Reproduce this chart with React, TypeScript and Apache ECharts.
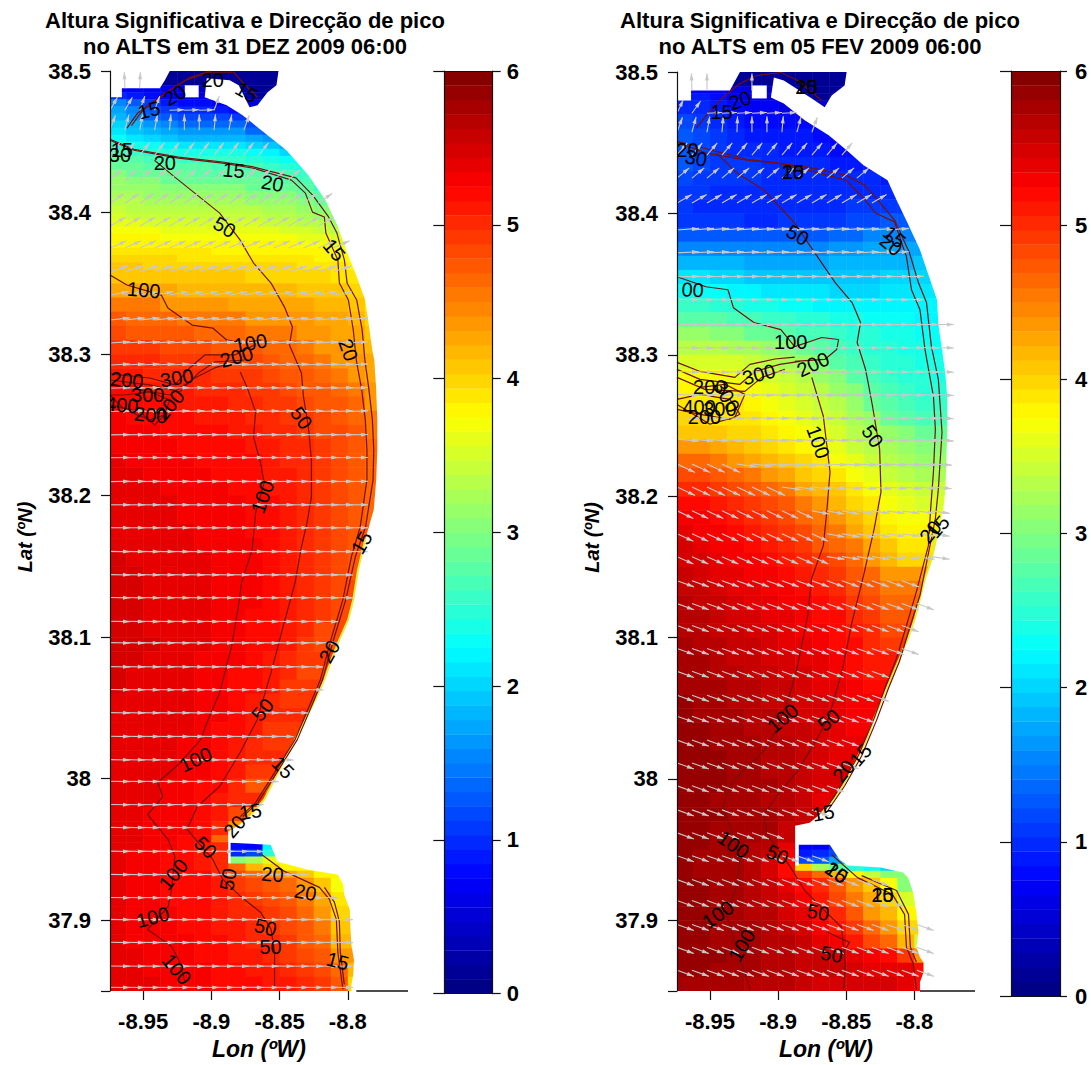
import React, { useEffect, useRef } from "react";
import * as echarts from "echarts";

const FONT = "Liberation Sans";
const titleA = "Altura Significativa e Direcção de pico\nno ALTS em 31 DEZ 2009 06:00";
const titleB = "Altura Significativa e Direcção de pico\nno ALTS em 05 FEV 2009 06:00";
const lonTicks = [-8.95, -8.9, -8.85, -8.8];
const latLabels = [37.9, 38, 38.1, 38.2, 38.3, 38.4, 38.5];
const latTicks = [37.85, 37.9, 38, 38.1, 38.2, 38.3, 38.4, 38.5];

const lonStart = -8.975;
const lonStep = 0.0125;

// Hs x 10, by latitude row (north to south), west to east in lonStep columns
const hsLatsA = [38.5, 38.49, 38.485, 38.48, 38.475, 38.47, 38.465, 38.46, 38.455, 38.45, 38.445, 38.44, 38.435, 38.43, 38.425, 38.42, 38.415, 38.41, 38.405, 38.4, 38.395, 38.39, 38.385, 38.38, 38.375, 38.37, 38.365, 38.36, 38.35, 38.34, 38.33, 38.32, 38.31, 38.3, 38.29, 38.28, 38.27, 38.26, 38.25, 38.24, 38.23, 38.22, 38.21, 38.2, 38.19, 38.18, 38.17, 38.16, 38.15, 38.14, 38.13, 38.12, 38.11, 38.1, 38.09, 38.08, 38.07, 38.06, 38.05, 38.04, 38.03, 38.02, 38.01, 38, 37.99, 37.98, 37.97, 37.96, 37.955, 37.95, 37.945, 37.94, 37.935, 37.93, 37.92, 37.91, 37.9, 37.89, 37.88, 37.87, 37.86];
const hsRowsA = [
[1,1,1,1,1,1,1,1,1,1],[7,7,7,6,5,4,3,2,1,1],[10,9,8,7,6,6,5,4,2,1],[15,13,11,9,8,8,7,6,5,3],[17,15,13,11,10,10,9,8,6,4],[18,16,14,13,12,12,12,11,9,7],[20,18,16,15,14,14,14,14,12,10,8],[21,19,18,17,16,16,16,16,14,13,10],[23,21,20,19,18,18,18,18,17,16,14,11],[25,24,23,22,21,21,21,21,20,19,17,14],[27,26,25,25,24,24,24,24,23,22,20,17,13],[29,28,27,27,26,26,26,26,25,24,23,21,16],[29,29,28,28,28,28,27,27,27,26,25,24,20],[30,29,29,29,29,28,28,28,28,27,27,26,23,18],[31,30,30,29,29,29,29,29,29,28,28,27,25,21],[31,31,31,30,30,30,30,30,29,29,29,28,26,23],[32,32,31,31,31,31,31,31,30,30,30,29,28,25],[33,33,32,32,32,32,32,32,31,31,31,30,29,27],[34,33,33,33,33,33,33,33,33,32,32,31,30,28,25],[35,34,34,34,34,34,34,34,34,33,33,32,31,30,27],[36,36,35,35,35,35,35,35,35,34,34,33,33,31,29],[37,37,37,36,36,36,36,36,36,36,35,35,34,33,31],[38,38,38,37,37,37,37,37,37,37,37,36,36,35,33],[38,38,38,38,38,38,38,38,38,38,38,37,37,36,35],[39,39,39,39,39,39,38,38,38,38,38,38,38,37,36],[40,40,40,40,39,39,39,39,39,39,39,39,38,38,37],[41,41,40,40,40,40,40,40,40,40,40,39,39,39,38],[41,41,41,41,41,41,41,41,40,40,40,40,40,39,39],
[43,43,43,43,42,42,42,42,42,42,42,41,41,41,40,38],[45,45,45,44,44,44,44,43,43,43,43,43,42,42,41,39],[47,46,46,46,45,45,45,45,44,44,44,44,43,43,42,40],[48,47,47,47,47,46,46,46,45,45,45,44,44,43,43,41],[49,49,49,48,48,48,47,47,47,46,46,45,44,44,43,42],[50,50,50,49,49,49,49,48,48,47,46,46,45,44,44,43],[51,51,50,50,50,50,49,49,49,48,47,47,46,45,44,43],[52,52,51,51,51,50,50,50,49,49,48,47,47,46,45,44],[52,52,52,52,51,51,51,50,50,49,49,48,47,47,46,44],[53,52,52,52,52,51,51,51,50,50,49,49,48,47,46,45],[53,53,53,52,52,52,52,51,51,50,50,49,48,48,47,45],[53,53,53,53,52,52,52,52,51,51,50,50,49,48,47,46],[54,53,53,53,53,52,52,52,52,51,50,50,49,48,47,46],[54,54,53,53,53,53,52,52,52,51,51,50,49,48,47,46],[54,54,54,53,53,53,53,52,52,51,51,50,49,48,47,46],[54,54,54,54,53,53,53,53,52,52,51,50,49,48,47,46],[54,54,54,54,53,53,53,53,52,52,51,50,49,48,47,46],[54,54,54,54,54,53,53,53,52,52,51,50,49,48,47],[54,54,54,54,54,53,53,53,53,52,51,50,49,48,47],[55,54,54,54,54,54,53,53,53,52,51,50,49,48,47],[55,55,54,54,54,54,53,53,53,52,51,50,49,48,47],[55,55,54,54,54,54,53,53,53,52,51,50,49,48],[55,55,54,54,54,54,53,53,53,52,51,50,49,48],[55,55,54,54,54,54,53,53,52,52,51,50,49,48],[55,55,54,54,54,54,53,53,52,52,51,50,48],[55,55,55,54,54,54,53,53,52,52,51,49,48],[55,55,54,54,54,53,53,53,52,51,50,49],[55,54,54,54,54,53,53,52,52,51,50,48],[55,54,54,54,54,53,53,52,52,51,49],[54,54,54,54,54,53,53,52,51,50,49],[54,54,54,54,54,53,53,52,51,50],[54,54,54,54,54,53,52,52,51,49],[54,54,54,54,53,53,52,51,50,49],[54,54,54,54,53,53,52,51,50],[54,54,54,54,53,53,52,51,49],[54,54,54,53,53,52,52,50,47],[54,54,54,53,53,52,51,50],[54,54,53,53,53,52,51,48,42],[54,54,53,53,53,52,50,44],[54,54,53,53,52,52,46],[54,54,53,53,52,51,50,8,7,22],[54,53,53,52,52,51,50,10,12,25],[54,53,53,52,52,51,50,30,32,36],[54,53,53,52,52,51,50,46,42,40,38],[54,53,53,52,52,52,50,48,46,44,43,41,38],[54,53,53,52,52,52,51,49,48,47,46,44,41,37],[54,53,53,52,52,52,51,50,49,48,47,45,43,39],[54,53,53,53,52,52,51,50,50,49,48,46,44,40],[54,53,53,53,52,52,51,51,50,49,48,47,45,41],[54,53,53,53,53,52,52,51,50,50,49,47,46,42],[54,54,53,53,53,52,52,51,51,50,49,48,47,44],[54,54,53,53,53,53,52,52,51,51,50,49,48,46,42],[54,54,54,53,53,53,52,52,52,51,51,50,49,47,40],
];

const hsLatsB = [38.5, 38.49, 38.485, 38.48, 38.47, 38.46, 38.45, 38.44, 38.43, 38.42, 38.41, 38.4, 38.39, 38.38, 38.37, 38.36, 38.35, 38.34, 38.33, 38.32, 38.31, 38.3, 38.29, 38.28, 38.27, 38.26, 38.25, 38.24, 38.23, 38.22, 38.21, 38.2, 38.19, 38.18, 38.17, 38.16, 38.15, 38.14, 38.13, 38.12, 38.11, 38.1, 38.09, 38.08, 38.07, 38.06, 38.05, 38.04, 38.03, 38.02, 38.01, 38, 37.99, 37.98, 37.97, 37.96, 37.955, 37.95, 37.945, 37.94, 37.935, 37.93, 37.92, 37.91, 37.9, 37.89, 37.88, 37.87, 37.86];
const hsRowsB = [
[1,1,1,1,1,1,1,1,1,1],[7,7,7,6,5,4,3,2,1,1],[9,9,8,7,6,5,4,2,1,1],[10,10,9,8,7,7,6,6,4,2],[12,11,10,9,8,8,8,8,7,6],[13,12,11,10,9,9,9,9,8,7,7],[13,12,11,10,10,10,9,9,9,8,8,7],[13,12,11,11,11,10,10,10,10,9,9,9,8],[12,11,11,11,11,10,10,10,10,10,10,10,9,8],[11,11,10,10,10,10,10,10,10,10,10,10,10,9],[11,10,10,10,10,10,10,10,10,10,11,11,11,11],[11,11,11,11,10,10,11,11,11,11,12,12,13,13],[13,13,13,13,13,13,13,13,13,14,14,15,15,15,14],[15,15,15,15,15,15,15,15,15,16,16,17,17,17,17],[18,18,18,18,17,17,17,17,17,18,18,18,18,18,19],[21,21,20,20,19,19,19,19,19,19,19,19,20,20,20,20],[23,23,23,22,22,21,21,21,21,20,20,20,21,21,21,21],[26,26,25,25,24,24,23,23,22,22,22,22,22,22,22,22],[28,28,28,27,27,26,26,25,25,24,24,23,23,23,22,22],[31,31,30,30,29,29,28,27,27,26,25,25,24,24,23,23],[33,33,33,32,32,31,30,29,28,27,26,25,25,24,24,23],[35,35,35,35,34,33,32,31,30,28,27,26,25,25,24,24],[37,37,37,36,36,35,34,33,31,30,28,27,26,25,25,24],[38,38,38,38,37,36,35,34,33,31,30,28,27,26,25,25],[39,39,39,39,38,37,36,35,34,33,31,29,28,27,26,26],[40,40,39,39,39,38,37,36,35,34,32,31,29,28,27,27],[41,41,41,40,40,39,38,37,36,35,33,32,31,30,29],[44,44,43,42,41,40,39,38,37,36,34,33,32,31,30],[46,46,45,44,43,42,41,40,39,37,36,34,33,32,31],[48,48,47,46,45,44,43,41,40,39,37,36,34,33,32],[50,50,49,48,47,46,45,43,42,41,39,37,36,35,34],[52,52,51,50,49,48,47,45,44,42,40,39,37,36,35],[53,53,52,51,50,49,48,46,45,44,42,40,38,37],[54,53,53,52,51,50,49,48,46,45,43,41,39,38],[55,54,53,53,52,51,50,49,47,46,45,43,41,39],[55,55,54,53,53,52,51,50,49,48,46,44,42,40],[56,55,54,54,53,53,52,51,50,49,47,46,44],[56,56,55,54,54,53,53,52,51,50,48,47,45],[57,56,56,55,54,54,53,53,52,51,49,48,46],[57,57,56,55,55,54,54,53,52,52,50,49,47],[57,57,56,56,55,55,54,53,53,52,51,50,48],[58,57,57,56,56,55,54,54,53,52,52,50,49],[58,58,57,56,56,55,55,54,54,53,52,51],[58,58,57,57,56,56,55,55,54,53,52,51],[58,58,58,57,57,56,56,55,54,54,53,52],[59,58,58,57,57,56,56,55,55,54,53],[59,58,58,58,57,57,56,55,55,54,53],[59,59,58,58,57,57,56,56,55,54,53],[59,59,58,58,58,57,57,56,55,54],[59,59,59,58,58,57,57,56,55,54],[59,59,59,58,58,57,57,56,55],[59,59,59,58,58,58,57,56,55],[59,59,58,58,58,57,57,56,54],[59,59,59,58,58,58,57,56],[59,59,58,58,58,58,56],[59,59,58,58,58,57,56],[59,59,58,58,57,57,54,7,7,10],[59,58,58,58,57,56,53,9,10,12],[59,58,58,58,57,55,52,12,13,17,20],[59,58,58,58,57,55,52,40,32,28,25,23,20],[59,58,58,58,57,55,52,49,46,42,38,34,30],[59,59,58,58,57,56,54,52,50,47,44,41,37,30],[59,59,58,58,57,56,55,53,51,48,45,43,40,35],[59,59,58,58,57,57,55,54,52,50,47,44,42,38],[59,59,58,58,58,57,56,55,53,51,49,46,44,40],[59,59,58,58,58,57,57,56,54,53,51,48,46,42,34],[59,59,59,58,58,57,57,56,56,55,54,53,52,49,44],[59,59,58,58,58,57,57,56,56,56,55,54,54,54,52],[58,58,58,58,57,57,57,56,55,55,55,55,55,54,52],
];

// white (no data) outlines as lon/lat
const masksA = [
  [[-8.8508,38.51],[-8.8508,38.5],[-8.8523,38.4899],[-8.8588,38.485],[-8.8662,38.4758],[-8.872,38.4744],[-8.88,38.4899],[-8.8866,38.4934],[-8.9034,38.4948],[-8.9049,38.4814],[-8.8888,38.4758],[-8.8771,38.4687],[-8.8662,38.4603],[-8.845,38.444],[-8.8289,38.4264],[-8.8165,38.4088],[-8.8077,38.3911],[-8.8012,38.3735],[-8.7939,38.3558],[-8.7873,38.3382],[-8.7846,38.3205],[-8.7821,38.3029],[-8.7806,38.2958],[-8.7792,38.2747],[-8.7784,38.2535],[-8.7784,38.2323],[-8.7792,38.2112],[-8.781,38.19],[-8.7873,38.1688],[-8.7925,38.1477],[-8.796,38.1265],[-8.7997,38.1124],[-8.8062,38.0982],[-8.812,38.0841],[-8.8172,38.07],[-8.8238,38.0559],[-8.8311,38.0417],[-8.8387,38.0276],[-8.8464,38.0135],[-8.8537,37.9994],[-8.8613,37.9853],[-8.8705,37.9747],[-8.8793,37.9676],[-8.8877,37.9626],[-8.8877,37.9402],[-8.8859,37.9402],[-8.8859,37.9547],[-8.8566,37.9533],[-8.8515,37.9413],[-8.8289,37.9356],[-8.8073,37.9321],[-8.8033,37.925],[-8.8026,37.918],[-8.7985,37.9074],[-8.7982,37.8968],[-8.7974,37.8827],[-8.7955,37.872],[-8.796,37.8615],[-8.7974,37.8544],[-8.7974,37.84],[-8.75,37.84],[-8.75,38.51]],
  [[-8.9195,38.4899],[-8.9093,38.4899],[-8.9093,38.4814],[-8.9195,38.4814]],
  [[-8.98,38.51],[-8.9305,38.51],[-8.9305,38.5],[-8.9341,38.4934],[-8.9378,38.4878],[-8.9656,38.4878],[-8.9656,38.4814],[-8.98,38.4814]],
];
const masksB = [
  [[-8.8497,38.51],[-8.8497,38.5],[-8.8512,38.4905],[-8.8607,38.4834],[-8.8658,38.475],[-8.8753,38.4813],[-8.8958,38.494],[-8.9031,38.4961],[-8.9053,38.482],[-8.8958,38.4778],[-8.8805,38.4658],[-8.8629,38.4553],[-8.8497,38.4447],[-8.8373,38.4341],[-8.8197,38.4235],[-8.8131,38.4094],[-8.8043,38.3918],[-8.7959,38.3742],[-8.7897,38.3566],[-8.7834,38.339],[-8.7824,38.3214],[-8.7797,38.3037],[-8.7772,38.2861],[-8.7758,38.2685],[-8.7758,38.2474],[-8.7765,38.2262],[-8.7772,38.2051],[-8.7787,38.191],[-8.7824,38.1769],[-8.7872,38.1557],[-8.7922,38.1416],[-8.7959,38.1275],[-8.7996,38.1135],[-8.8046,38.0994],[-8.8109,38.0853],[-8.8171,38.0712],[-8.8234,38.0571],[-8.8295,38.043],[-8.8345,38.0289],[-8.842,38.0148],[-8.8494,38.0007],[-8.8581,37.9866],[-8.868,37.976],[-8.8768,37.969],[-8.8875,37.9669],[-8.8875,37.9388],[-8.8848,37.9388],[-8.8848,37.9535],[-8.8621,37.9535],[-8.8548,37.9429],[-8.849,37.9387],[-8.8248,37.9373],[-8.8083,37.9338],[-8.8046,37.9303],[-8.8009,37.9197],[-8.7985,37.9056],[-8.797,37.8915],[-8.7985,37.8809],[-8.7959,37.8738],[-8.7933,37.8703],[-8.7933,37.8633],[-8.7959,37.8562],[-8.7959,37.84],[-8.75,37.84],[-8.75,38.51]],
  [[-8.9193,38.4905],[-8.9083,38.4905],[-8.9083,38.4813],[-8.9193,38.4813]],
  [[-8.98,38.51],[-8.928,38.51],[-8.928,38.5],[-8.9354,38.487],[-8.9639,38.487],[-8.9639,38.4799],[-8.98,38.4799]],
];
// yellow-green fringe along the southern coast, lon/lat
const rimA = [[-8.7873,38.1688],[-8.7925,38.1477],[-8.796,38.1265],[-8.7997,38.1124],[-8.8062,38.0982],[-8.812,38.0841],[-8.8172,38.07],[-8.8238,38.0559],[-8.8311,38.0417],[-8.8387,38.0276],[-8.8464,38.0135],[-8.8537,37.9994],[-8.8613,37.9853],[-8.8705,37.9747]];
const rimB = [[-8.7824,38.1769],[-8.7872,38.1557],[-8.7922,38.1416],[-8.7959,38.1275],[-8.7996,38.1135],[-8.8046,38.0994],[-8.8109,38.0853],[-8.8171,38.0712],[-8.8234,38.0571],[-8.8295,38.043],[-8.8345,38.0289],[-8.842,38.0148],[-8.8494,38.0007],[-8.8581,37.9866],[-8.868,37.976]];

// depth contours, lon/lat
const contoursA = [
  [[-8.9619,38.4596],[-8.9542,38.4701],[-8.9341,38.4843],[-8.9191,38.4934],[-8.9012,38.4991],[-8.8837,38.4991],[-8.8764,38.4913],[-8.8662,38.4814]],
  [[-8.9585,38.4615],[-8.9505,38.472],[-8.9305,38.4862],[-8.9155,38.4955],[-8.9012,38.4999]],
  [[-8.9743,38.4511],[-8.9568,38.444],[-8.9241,38.4384],[-8.8917,38.4349],[-8.8691,38.4313],[-8.8413,38.4229],[-8.8311,38.4137],[-8.8259,38.4003],[-8.8172,38.3968],[-8.8161,38.3855],[-8.8073,38.3664],[-8.8062,38.3502],[-8.7996,38.3382],[-8.796,38.317],[-8.7938,38.2958],[-8.7898,38.2747],[-8.7872,38.2535],[-8.786,38.2323],[-8.786,38.2112],[-8.7909,38.178],[-8.7974,38.1568],[-8.8036,38.1265],[-8.8124,38.0982],[-8.8201,38.07],[-8.8262,38.0559],[-8.8387,38.0276],[-8.8537,38.0043],[-8.8676,37.9831],[-8.8789,37.9732]],
  [[-8.9743,38.4518],[-8.9568,38.4447],[-8.9241,38.4392],[-8.8917,38.4357],[-8.8691,38.4322],[-8.838,38.4245],[-8.8255,38.412],[-8.8145,38.3975],[-8.808,38.3855],[-8.8025,38.3664],[-8.8005,38.35],[-8.7935,38.3382],[-8.7895,38.317],[-8.7875,38.2958],[-8.7845,38.2747],[-8.782,38.2535],[-8.781,38.2323],[-8.7815,38.2112],[-8.787,38.178],[-8.7945,38.1568],[-8.8015,38.1265],[-8.8105,38.0982],[-8.8185,38.07],[-8.8245,38.0559],[-8.837,38.0276],[-8.852,38.0043],[-8.866,37.9831],[-8.877,37.9732]],
  [[-8.9417,38.437],[-8.9268,38.425],[-8.8939,38.3996],[-8.8789,38.3805],[-8.8691,38.3643],[-8.8563,38.3502],[-8.8464,38.3332],[-8.8406,38.3191],[-8.8428,38.3064],[-8.834,38.2866],[-8.8325,38.2697],[-8.8289,38.2485],[-8.8267,38.2253],[-8.8267,38.1991],[-8.8299,38.1807],[-8.834,38.1638],[-8.8387,38.1384],[-8.8475,38.1073],[-8.8563,38.0749],[-8.8664,38.0417],[-8.8789,38.0185],[-8.8939,37.9945],[-8.9103,37.9804],[-8.9178,37.9642],[-8.9066,37.9515],[-8.8991,37.9431],[-8.8917,37.929],[-8.8789,37.917],[-8.864,37.9057],[-8.8563,37.8937],[-8.8537,37.8775],[-8.8537,37.8514]],
  [[-8.9743,38.3558],[-8.9619,38.3488],[-8.9367,38.3417],[-8.9319,38.3326],[-8.9141,38.3205],[-8.899,38.3184],[-8.8888,38.31],[-8.8789,38.3078],[-8.8632,38.31]],
  [[-8.8789,38.2874],[-8.8739,38.2768],[-8.8676,38.2592],[-8.8691,38.2415],[-8.864,38.2232],[-8.8613,38.2091],[-8.8676,38.1879],[-8.8701,38.1618],[-8.8779,38.1385],[-8.8802,38.1215],[-8.8852,38.0933],[-8.8939,38.0608],[-8.9015,38.0439],[-8.9078,38.0276],[-8.9241,38.01],[-8.9393,37.9973],[-8.9356,37.9874],[-8.9467,37.9747],[-8.9317,37.957],[-8.9268,37.945],[-8.9292,37.9217],[-8.9317,37.9097],[-8.9467,37.8935],[-8.9292,37.8815],[-8.9241,37.8723],[-8.9191,37.8561]],
  [[-8.9743,38.286],[-8.9451,38.2831],[-8.9268,38.2782],[-8.9159,38.2902],[-8.9049,38.2994],[-8.8829,38.2994],[-8.8684,38.3064]],
  [[-8.9743,38.2817],[-8.9451,38.2782],[-8.9232,38.2733],[-8.9085,38.2874],[-8.8976,38.2944],[-8.8757,38.2958]],
  [[-8.9743,38.2782],[-8.9524,38.2747],[-8.9305,38.2711],[-8.9122,38.2831],[-8.8976,38.2902],[-8.8829,38.2944]],
  [[-8.9743,38.2711],[-8.9634,38.2606],[-8.9451,38.2535],[-8.9341,38.257],[-8.9305,38.2676],[-8.9451,38.2733],[-8.9634,38.2711],[-8.9743,38.2711]],
  [[-8.9743,38.2641],[-8.9524,38.2592],[-8.9415,38.25],[-8.9305,38.2606]],
  [[-8.8632,37.9465],[-8.8464,37.9345],[-8.8208,37.9232],[-8.8135,37.9147],[-8.8084,37.9006],[-8.8073,37.8773],[-8.8036,37.8512]],
  [[-8.8171,37.9232],[-8.8098,37.9126],[-8.8062,37.8992],[-8.8055,37.8773],[-8.8026,37.8547]],
];
const contoursB = [
  [[-8.9602,38.4602],[-8.9515,38.4708],[-8.9405,38.482],[-8.928,38.4919],[-8.9156,38.4975],[-8.898,38.4996],[-8.8856,38.494],[-8.868,38.4799]],
  [[-8.9742,38.4503],[-8.9529,38.4426],[-8.9229,38.4376],[-8.9002,38.4355],[-8.8783,38.4306],[-8.8504,38.4235],[-8.838,38.4116],[-8.8285,38.4003],[-8.8146,38.394],[-8.8058,38.3693],[-8.8021,38.346],[-8.7959,38.3319],[-8.7922,38.3037],[-8.786,38.2706],[-8.7846,38.2474],[-8.786,38.2171],[-8.7882,38.1889],[-8.7897,38.165],[-8.7985,38.1325],[-8.8058,38.1085],[-8.8131,38.0853],[-8.8208,38.0663],[-8.8295,38.043],[-8.8409,38.0169],[-8.8534,37.9958],[-8.8658,37.9775]],
  [[-8.9742,38.451],[-8.9229,38.4383],[-8.8783,38.4327],[-8.8504,38.4271],[-8.8365,38.42],[-8.8219,38.4038],[-8.8146,38.3953],[-8.8036,38.3721],[-8.797,38.351],[-8.7911,38.3369],[-8.7875,38.3059],[-8.7824,38.2826],[-8.7797,38.2452],[-8.7824,38.2051],[-8.7846,38.184],[-8.7959,38.1297],[-8.8036,38.1064],[-8.8109,38.0832],[-8.819,38.0641],[-8.8277,38.0416],[-8.8387,38.0162],[-8.8512,37.995],[-8.8636,37.9775]],
  [[-8.9452,38.4426],[-8.9302,38.4285],[-8.9105,38.4165],[-8.8878,38.3932],[-8.8731,38.3721],[-8.8581,38.351],[-8.8457,38.3369],[-8.8395,38.3228],[-8.842,38.3087],[-8.8358,38.2896],[-8.8307,38.2636],[-8.8255,38.2333],[-8.8245,38.2029],[-8.8295,38.1769],[-8.8373,38.1438],[-8.8457,38.1113],[-8.8531,38.0761],[-8.8629,38.043],[-8.8755,38.0218],[-8.8856,38.0056],[-8.9004,37.9887],[-8.9105,37.9746],[-8.9079,37.9605],[-8.8907,37.9373],[-8.8805,37.9211],[-8.8631,37.9042],[-8.8534,37.895],[-8.8507,37.8689],[-8.8519,37.8506]],
  [[-8.9742,38.3552],[-8.9529,38.3481],[-8.9368,38.346],[-8.9328,38.3333],[-8.9178,38.3228],[-8.898,38.3178],[-8.8878,38.3058],[-8.868,38.3122],[-8.8556,38.3108],[-8.857,38.3037],[-8.8658,38.2967],[-8.8878,38.2953]],
  [[-8.8753,38.284],[-8.8668,38.2565],[-8.8619,38.2171],[-8.8643,38.1889],[-8.8668,38.165],[-8.8755,38.1416],[-8.8783,38.1155],[-8.8856,38.0804],[-8.8907,38.062],[-8.9004,38.036],[-8.9105,38.0198],[-8.9328,37.9986],[-8.9405,37.9817],[-8.928,37.9443],[-8.9302,37.9253],[-8.9376,37.9042],[-8.9328,37.8879],[-8.9204,37.8506]],
  [[-8.9742,38.2946],[-8.9573,38.2882],[-8.9317,38.284],[-8.9207,38.2932],[-8.9024,38.297],[-8.8878,38.2984]],
  [[-8.9742,38.2897],[-8.9573,38.2826],[-8.928,38.2791],[-8.9171,38.2882],[-8.8988,38.2932],[-8.8841,38.2953]],
  [[-8.9742,38.284],[-8.9537,38.2755],[-8.9244,38.2741],[-8.9119,38.284],[-8.8951,38.2897]],
  [[-8.9742,38.2685],[-8.9573,38.272],[-8.9354,38.2685],[-8.928,38.2579],[-8.9354,38.2544],[-8.9573,38.2579],[-8.9742,38.2614]],
  [[-8.9742,38.2649],[-8.95,38.2509],[-8.9317,38.2558],[-8.9244,38.272],[-8.939,38.2791],[-8.9573,38.277]],
  [[-8.8607,37.9464],[-8.8417,37.9302],[-8.816,37.9182],[-8.8072,37.9042],[-8.8058,37.8809],[-8.8007,37.8689],[-8.7985,37.8506]],
  [[-8.8387,37.9316],[-8.8131,37.9211],[-8.8043,37.9042],[-8.8029,37.8809],[-8.7985,37.8703]],
  [[-8.8636,37.8915],[-8.8475,37.8844],[-8.8548,37.8738]],
];

// contour labels: lon, lat, rotation (deg), text
const labelLonA = [-8.9458,-8.9268,-8.899,-8.8742,-8.967,-8.9656,-8.9341,-8.8837,-8.8552,-8.8903,-8.8099,-8.9495,-8.8713,-8.8815,-8.9619,-8.9254,-8.9656,-8.9466,-8.9444,-8.9305,-8.7996,-8.834,-8.8625,-8.7898,-8.8135,-8.8625,-8.9115,-8.8475,-8.883,-8.8713,-8.9042,-8.9279,-8.8877,-8.8552,-8.8311,-8.9429,-8.8603,-8.8566,-8.8073,-8.9254];
const labelLatA = [38.4723,38.4829,38.4934,38.485,38.4405,38.444,38.4349,38.4299,38.4207,38.3897,38.3735,38.3452,38.3078,38.298,38.2817,38.2831,38.2641,38.2711,38.257,38.2641,38.3029,38.2549,38.1991,38.1667,38.0898,38.0488,38.0135,38.0079,37.9662,37.9768,37.9515,37.9324,37.9289,37.9324,37.9197,37.9021,37.895,37.8809,37.8711,37.8653];
const labelRotA = [15,30,0,-30,0,0,0,-5,-10,-30,-50,-5,10,15,-5,10,-5,0,-5,50,-70,-55,70,60,60,50,25,-45,50,10,-45,50,80,-5,-10,15,-15,0,-15,-50];
const labelTextA = ["15","20","20","15","30","15","20","15","20","50","15","100","100","200","200","300","400","300","200","200","20","50","100","15","20","50","100","15","20","15","50","100","50","20","20","100","50","50","15","100"];
const labelLonB = [-8.9415,-8.928,-8.8793,-8.8793,-8.9665,-8.9602,-8.8892,-8.8892,-8.8856,-8.8146,-8.8171,-8.9627,-8.8907,-8.8743,-8.9141,-8.9502,-8.9378,-8.958,-8.9427,-8.954,-8.8706,-8.8307,-8.7882,-8.7824,-8.8966,-8.8629,-8.8519,-8.8395,-8.8668,-8.9328,-8.9004,-8.857,-8.857,-8.8233,-8.8233,-8.8706,-8.9441,-8.9266,-8.8607];
const labelLatB = [38.4715,38.4799,38.4891,38.4891,38.4447,38.4391,38.4292,38.4292,38.3848,38.3834,38.3777,38.346,38.3087,38.2932,38.2861,38.277,38.2706,38.2628,38.2614,38.2558,38.2382,38.2424,38.1748,38.1783,38.043,38.0416,38.0056,38.0169,37.976,37.9535,37.9464,37.9338,37.9338,37.9182,37.9182,37.9056,37.9042,37.8823,37.8759];
const labelRotB = [0,20,0,0,0,-10,0,0,-30,-40,-40,-3,0,25,15,0,-60,0,0,0,-70,-55,50,50,40,40,50,50,10,-35,-25,-35,-35,0,0,-10,35,60,-10];
const labelTextB = ["15","20","20","15","20","30","20","15","50","15","20","00","100","200","300","200","300","400","300","200","100","50","20","15","100","50","20","15","15","100","50","20","15","20","15","50","100","100","50"];

// wave direction arrows: tail columns (lon), rows (lat), last tail lon in a row, angle (deg from east), length (px)
const arrowColsA = [-8.9743,-8.9634,-8.9525,-8.9416,-8.9307,-8.9198,-8.9089,-8.898,-8.8871,-8.8762,-8.8653,-8.8544,-8.8435,-8.8326,-8.8217,-8.8108,-8.7999,-8.789];
const arrowLatA = [38.4878,38.4723,38.4582,38.4405,38.4229,38.4066,38.3904,38.3749,38.3582,38.3417,38.3241,38.3078,38.2923,38.2759,38.2594,38.2429,38.2267,38.2099,38.1935,38.1773,38.1606,38.1442,38.128,38.1112,38.0961,38.0792,38.063,38.0467,38.03,38.0135,37.9982,37.9818,37.9656,37.9488,37.9324,37.9161,37.9006,37.8844,37.8677,37.8527];
const arrowEastA = [-8.92,-8.89,-8.872,-8.855,-8.84,-8.82,-8.812,-8.81,-8.803,-8.8,-8.79,-8.7909,-8.7909,-8.7909,-8.7909,-8.7909,-8.7909,-8.7909,-8.7909,-8.7909,-8.7909,-8.8018,-8.8018,-8.8135,-8.8135,-8.8231,-8.8245,-8.8347,-8.8457,-8.8472,-8.856,-8.8669,-8.8888,-8.8683,-8.8398,-8.8135,-8.8003,-8.8003,-8.8003,-8.8018];
const arrowAngA: (number | (number | null)[])[] = [[110,92,88,null,null,90],[60,60,70,70,2,2,2,70,60],[70,75,80,80,85,90,90,85,80,70,60,55],52,42,35,30,24,17,10,6,4,3,2,2,1,1,1,0,0,-1,-1,-1,-1,-1,-1,-1,-1,-1,-1,-1,-1,-1,-1,-1,-1,-1,-1,-1,-1,-1];
const arrowLenA = [16,15,16,16,16,17,18,18,19,19,20,20,20,20,20,20,20,20,20,20,20,20,20,20,20,20,20,20,20,20,20,20,20,20,20,20,20,20,20,20];

const arrowColsB = [-8.9742,-8.9632,-8.9522,-8.9412,-8.9302,-8.9192,-8.9082,-8.8972,-8.8862,-8.8752,-8.8642,-8.8532,-8.8422,-8.8312,-8.8202,-8.8092,-8.7982,-8.7872];
const arrowLatB = [38.487,38.4708,38.4574,38.4412,38.4249,38.4073,38.3883,38.3721,38.3552,38.339,38.3214,38.3051,38.2882,38.272,38.2558,38.2403,38.2227,38.2065,38.1896,38.1734,38.1572,38.1402,38.124,38.1085,38.0923,38.0761,38.0592,38.0444,38.0275,38.0113,37.9951,37.9781,37.9619,37.9457,37.9288,37.914,37.8971,37.8809,37.8647];
const arrowEastB = [-8.9,-8.89,-8.8702,-8.8464,-8.8329,-8.8215,-8.8094,-8.8094,-8.7992,-8.7992,-8.7868,-8.7868,-8.7868,-8.7868,-8.7868,-8.7868,-8.7868,-8.7868,-8.7868,-8.7868,-8.7868,-8.7992,-8.7977,-8.8091,-8.8091,-8.8226,-8.8226,-8.8314,-8.8439,-8.8512,-8.8551,-8.8665,-8.8988,-8.8665,-8.8263,-8.8102,-8.7977,-8.7977,-8.7977];
const arrowAngB: (number | (number | null)[])[] = [[95,92,90,null,null,90],[65,55,3,3,3,3,3,3,55],[70,75,80,85,88,90,90,85,75,70,65,55],50,40,30,4,3,1,0,0,-1,-2,-3,-4,-5,[-25,-25,-25,-25,-8,-6,-5,-5,-5,-4,-3,-3,-3,-3,-3,-3,-3,-3],[-25,-25,-25,-25,-25,-25,-25,-8,-8,-6,-6,-6,-6,-6,-5,-5,-5,-5],[-25,-25,-25,-25,-25,-25,-25,-25,-25,-10,-10,-10,-10,-8,-8,-8,-8,-8],[-25,-25,-25,-25,-25,-25,-25,-25,-25,-25,-10,-10,-10,-10,-8,-8,-8,-8],[-24,-24,-24,-24,-24,-24,-24,-24,-24,-24,-8,-8,-8,-8,-8,-8,-8,-8],-20,-20,-20,-20,-20,-20,-20,-20,-20,-20,-20,-20,-20,-20,-20,-20,-20,-20];
const arrowLenB = [17,15,16,16,16,17,22,22,22,22,22,22,22,22,22,22,20,20,18,18,18,18,18,18,18,18,18,18,18,18,18,18,18,18,18,18,18,18,18];

const cbarTicks = [0, 1, 2, 3, 4, 5, 6];
const cbarLevels = 64;

const jet = (v: number) => {
  const i = Math.max(0, Math.min(cbarLevels - 1, Math.floor((v / 6) * cbarLevels)));
  const t = (i + 0.5) / cbarLevels;
  const ch = (c: number) => Math.round(255 * Math.max(0, Math.min(1, 1.5 - Math.abs(4 * t - c))));
  return `rgb(${ch(3)},${ch(2)},${ch(1)})`;
};

const customSeries = (axis: number, data: any[], render: any, z: number) => ({
  type: "custom", coordinateSystem: "cartesian2d", xAxisIndex: axis, yAxisIndex: axis,
  data, renderItem: render, z, clip: true, silent: true, encode: { x: 0, y: 1 },
});

function heatSeries(axis: number, lats: number[], rows: number[][], lonMax: number) {
  const cells: number[][] = [];
  rows.forEach((row, r) => {
    const south = r + 1 < lats.length ? lats[r + 1] : 37.85;
    row.forEach((v, c) => {
      const east = c === row.length - 1 ? lonMax : lonStart + (c + 1) * lonStep;
      cells.push([lonStart + c * lonStep, lats[r], east, south, v / 10]);
    });
  });
  return customSeries(axis, cells, (_: any, api: any) => {
    const a = api.coord([api.value(0), api.value(1)]);
    const b = api.coord([api.value(2), api.value(3)]);
    return { type: "rect", shape: { x: a[0], y: a[1], width: b[0] - a[0] + 0.5, height: b[1] - a[1] + 0.5 }, style: { fill: jet(api.value(4)) } };
  }, 2);
}

function maskSeries(axis: number, masks: number[][][]) {
  return customSeries(axis, masks.map((m) => m[1]), (p: any, api: any) => ({
    type: "polygon",
    shape: { points: masks[p.dataIndex].map((q) => api.coord(q)) },
    style: { fill: "#fff" },
  }), 3);
}

function rimSeries(axis: number, rim: number[][]) {
  return { type: "line", xAxisIndex: axis, yAxisIndex: axis, data: rim, showSymbol: false, symbol: "none", silent: true, z: 3.5, lineStyle: { color: "#dcf03a", width: 2 } };
}

function contourSeries(axis: number, lines: number[][][]) {
  return lines.map((l) => ({
    type: "line", xAxisIndex: axis, yAxisIndex: axis, data: l, showSymbol: false, symbol: "none", silent: true, z: 4,
    lineStyle: { color: "#74100e", width: 1.2 },
  }));
}

function arrowSeries(axis: number, cols: number[], lats: number[], easts: number[], angs: any[], lens: number[]) {
  const data: number[][] = [];
  lats.forEach((lat, r) => {
    cols.forEach((lon, c) => {
      if (lon > easts[r]) return;
      const a = Array.isArray(angs[r]) ? angs[r][c] : angs[r];
      if (a === null || a === undefined) return;
      data.push([lon, lat, a, lens[r]]);
    });
  });
  return customSeries(axis, data, (_: any, api: any) => {
    const p = api.coord([api.value(0), api.value(1)]);
    const th = (api.value(2) * Math.PI) / 180;
    const L = api.value(3);
    const ux = Math.cos(th), uy = -Math.sin(th);
    const tip = [p[0] + L * ux, p[1] + L * uy];
    const base = [tip[0] - 7 * ux, tip[1] - 7 * uy];
    return {
      type: "group",
      children: [
        { type: "line", shape: { x1: p[0], y1: p[1], x2: tip[0], y2: tip[1] }, style: { stroke: "#c8c8c8", lineWidth: 1.1 } },
        { type: "polygon", shape: { points: [tip, [base[0] - 2 * uy, base[1] + 2 * ux], [base[0] + 2 * uy, base[1] - 2 * ux]] }, style: { fill: "#c8c8c8" } },
      ],
    };
  }, 5);
}

function labelSeries(axis: number, lons: number[], lats: number[], rots: number[], texts: string[]) {
  return customSeries(axis, lons.map((l, i) => [l, lats[i]]), (p: any, api: any) => {
    const c = api.coord([api.value(0), api.value(1)]);
    return {
      type: "text", x: c[0], y: c[1], rotation: (rots[p.dataIndex] * Math.PI) / 180,
      style: { text: texts[p.dataIndex], fontFamily: FONT, fontSize: 20, fill: "#000", align: "center", verticalAlign: "middle" },
    };
  }, 6);
}

function cbarSeries(axis: number) {
  const bands = Array.from({ length: cbarLevels }, (_, i) => [0, (i * 6) / cbarLevels, 1, ((i + 1) * 6) / cbarLevels]);
  return customSeries(axis, bands, (p: any, api: any) => {
    const a = api.coord([0, bands[p.dataIndex][3]]);
    const b = api.coord([1, bands[p.dataIndex][1]]);
    return { type: "rect", shape: { x: a[0], y: a[1], width: b[0] - a[0], height: b[1] - a[1] + 0.4 }, style: { fill: jet(bands[p.dataIndex][1] + 0.01) } };
  }, 2);
}

const axisText = { color: "#000", fontFamily: FONT, fontSize: 22, fontWeight: "bold" as const };
const nameTextX = { color: "#000", fontFamily: FONT, fontSize: 23, fontWeight: "bold" as const, fontStyle: "italic" as const };
const nameTextY = { color: "#000", fontFamily: FONT, fontSize: 20, fontWeight: "bold" as const, fontStyle: "italic" as const, padding: [0, 12, 0, 0] };
const black = { lineStyle: { color: "#111", width: 1.2 } };

function mapX(i: number, min: number, max: number) {
  return {
    type: "value", gridIndex: i, min, max, name: "Lon (ºW)", nameLocation: "middle", nameGap: 46, nameTextStyle: nameTextX, z: 20,
    splitLine: { show: false }, axisLine: { show: false },
    axisTick: { show: true, length: 9, customValues: lonTicks, ...black },
    axisLabel: { show: true, margin: 19, customValues: lonTicks, formatter: (v: number) => String(v), ...axisText },
  };
}
function mapY(i: number) {
  return {
    type: "value", gridIndex: i, min: 37.85, max: 38.5, name: "Lat (ºN)", nameLocation: "middle", nameGap: 75, nameRotate: 90, nameTextStyle: nameTextY, z: 20,
    splitLine: { show: false }, axisLine: { show: true, onZero: false, ...black },
    axisTick: { show: true, length: 9, customValues: latTicks, ...black },
    axisLabel: { show: true, margin: 19, customValues: latLabels, formatter: (v: number) => String(v), ...axisText },
  };
}
function cbX(i: number, position: string) {
  return { type: "value", gridIndex: i, min: 0, max: 1, position, z: 20, splitLine: { show: false }, axisTick: { show: false }, axisLabel: { show: false }, axisLine: { show: true, onZero: false, ...black } };
}
function cbY(i: number, position: string, labels: boolean, tick: number, margin: number) {
  return {
    type: "value", gridIndex: i, min: 0, max: 6, interval: 1, position, z: 20, splitLine: { show: false },
    axisLine: { show: true, onZero: false, ...black }, axisTick: { show: true, length: tick, ...black },
    axisLabel: { show: labels, margin, customValues: cbarTicks, ...axisText },
  };
}

export default function App() {
  const ref = useRef<HTMLDivElement>(null);
  useEffect(() => {
    document.body.style.margin = "0";
    const chart = echarts.init(ref.current!, undefined, { renderer: "svg" });
    const maxA = -8.7559, maxB = -8.7555, minA = -8.9743, minB = -8.9742;
    const titleStyle = { fontFamily: FONT, fontSize: 22, fontWeight: "bold", color: "#000", lineHeight: 26, align: "center" };
    chart.setOption({
      animation: false,
      backgroundColor: "#fff",
      title: [
        { text: titleA, left: 240, top: 2, textAlign: "center", textStyle: titleStyle },
        { text: titleB, left: 815, top: 2, textAlign: "center", textStyle: titleStyle },
      ],
      grid: [
        { left: 110, top: 71, width: 298, height: 921 },
        { left: 677, top: 72, width: 298, height: 922 },
        { left: 444.3, top: 71, width: 48.4, height: 922.7 },
        { left: 1011, top: 71, width: 49, height: 925 },
      ],
      xAxis: [mapX(0, minA, maxA), mapX(1, minB, maxB), cbX(2, "bottom"), cbX(3, "bottom"), cbX(2, "top"), cbX(3, "top")],
      yAxis: [mapY(0), mapY(1), cbY(2, "left", false, 11, 7), cbY(3, "left", false, 11, 7), cbY(2, "right", true, 8, 14), cbY(3, "right", true, 7, 15)],
      series: [
        heatSeries(0, hsLatsA, hsRowsA, maxA),
        maskSeries(0, masksA),
        rimSeries(0, rimA),
        ...contourSeries(0, contoursA),
        arrowSeries(0, arrowColsA, arrowLatA, arrowEastA, arrowAngA, arrowLenA),
        labelSeries(0, labelLonA, labelLatA, labelRotA, labelTextA),
        { type: "line", xAxisIndex: 0, yAxisIndex: 0, data: [[-8.7938, 37.85], [maxA, 37.85]], symbol: "none", clip: false, silent: true, z: 7, lineStyle: { color: "#111", width: 1.4 } },
        heatSeries(1, hsLatsB, hsRowsB, maxB),
        maskSeries(1, masksB),
        rimSeries(1, rimB),
        ...contourSeries(1, contoursB),
        arrowSeries(1, arrowColsB, arrowLatB, arrowEastB, arrowAngB, arrowLenB),
        labelSeries(1, labelLonB, labelLatB, labelRotB, labelTextB),
        { type: "line", xAxisIndex: 1, yAxisIndex: 1, data: [[-8.7959, 37.85], [maxB, 37.85]], symbol: "none", clip: false, silent: true, z: 7, lineStyle: { color: "#111", width: 1.4 } },
        cbarSeries(2),
        cbarSeries(3),
      ],
    });
    return () => chart.dispose();
  }, []);
  return <div ref={ref} style={{ position: "absolute", left: 0, top: 0, width: 1091, height: 1065 }} />;
}
